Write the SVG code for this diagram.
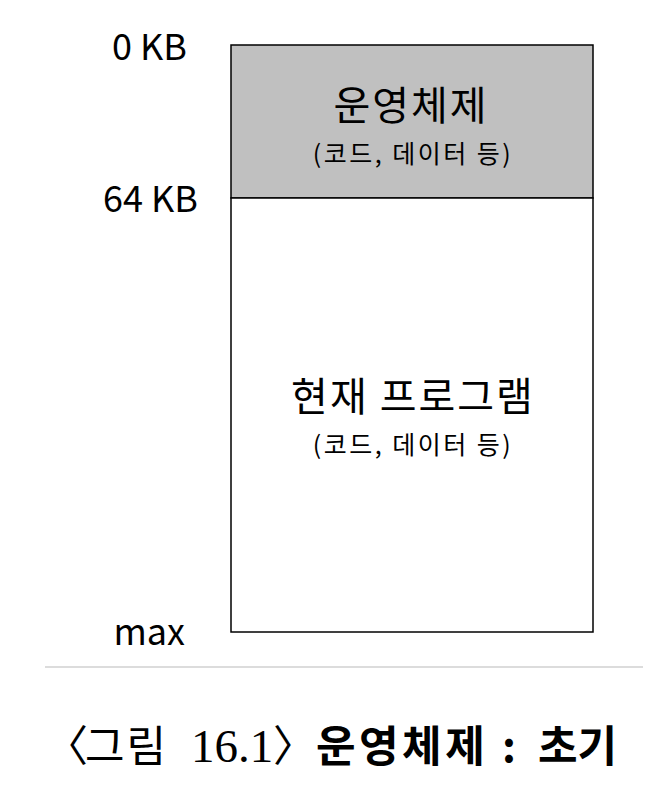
<svg xmlns="http://www.w3.org/2000/svg" width="650" height="786" viewBox="0 0 650 786">
<style>
.lbl{font-family:"Noto Sans CJK KR","Noto Sans",sans-serif;fill:#000}
.big{font-size:40px;letter-spacing:2px}
.sub{font-size:25px;letter-spacing:2.5px}
.side{font-size:36px;text-anchor:end}
.cap{font-family:"Liberation Serif","Noto Sans CJK KR",serif;font-size:47px;fill:#000}
.capk{font-family:"Noto Sans CJK KR",serif;font-size:43px;fill:#000}
</style>
<rect width="650" height="786" fill="#fff"/>
<g id="os">
<rect x="231" y="45" width="362" height="153" fill="#c0c0c0" stroke="#000" stroke-width="1.5"/>
<text class="lbl big" x="411" y="120" text-anchor="middle">운영체제</text>
<text class="lbl sub" x="413" y="163" text-anchor="middle">(코드, 데이터 등)</text>
</g>
<g id="program">
<rect x="231" y="198" width="362" height="434" fill="#fff" stroke="#000" stroke-width="1.5"/>
<text class="lbl big" x="413" y="411" text-anchor="middle">현재 프로그램</text>
<text class="lbl sub" x="413" y="454" text-anchor="middle">(코드, 데이터 등)</text>
</g>
<g id="labels">
<text class="lbl side" x="187" y="60">0 KB</text>
<text class="lbl side" x="198" y="212">64 KB</text>
<text class="lbl side" x="185" y="645">max</text>
</g>
<g id="connectors">
<line x1="45" y1="667" x2="643" y2="667" stroke="#d0d0d0" stroke-width="1.5"/>
</g>
<g id="caption">
<text class="capk" x="45" y="762">〈</text>
<text class="capk" x="85" y="762" font-size="45" letter-spacing="2">그림</text>
<text class="cap" x="191" y="762">16.1</text>
<text class="capk" x="273" y="762">〉</text>
<text class="capk" x="316" y="762" font-weight="bold" letter-spacing="3.5">운영체제</text>
<text class="capk" x="502" y="762" font-weight="bold">:</text>
<text class="capk" x="538" y="762" font-weight="bold" font-size="44">초기</text>
</g>
</svg>
